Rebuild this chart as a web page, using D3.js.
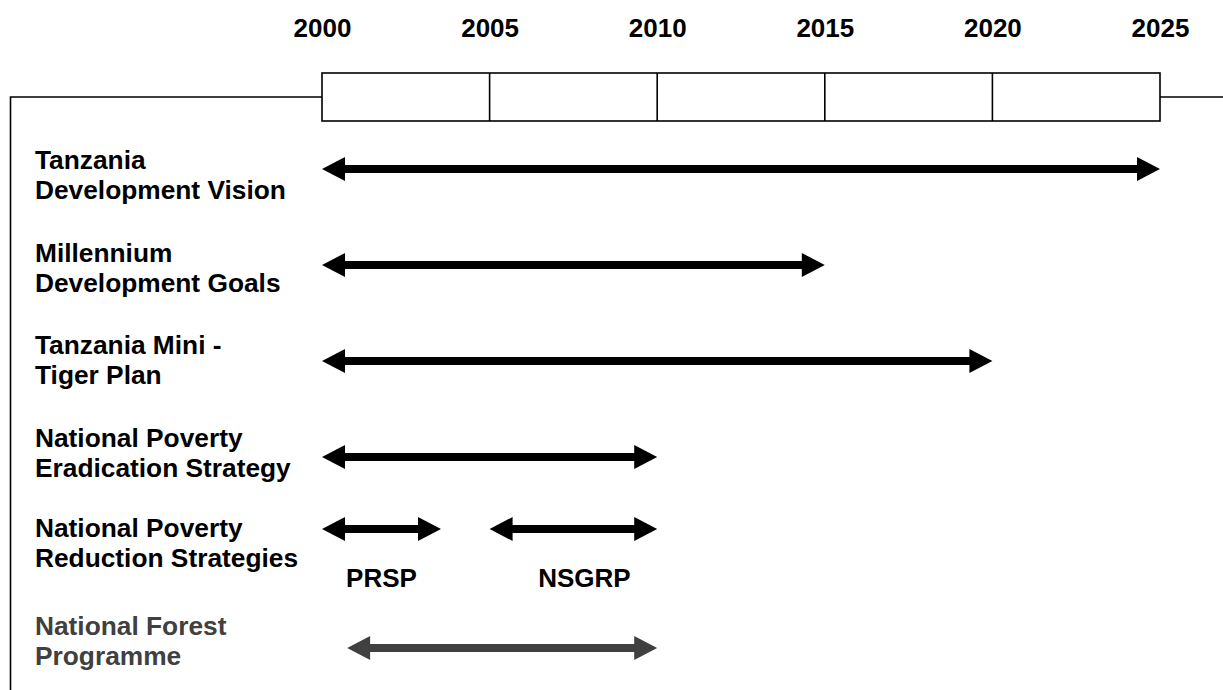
<!DOCTYPE html>
<html><head><meta charset="utf-8">
<script src="https://cdn.jsdelivr.net/npm/d3@7"></script>
<style>html,body{margin:0;padding:0;background:#fff;}svg{display:block;}</style>
</head><body>
<script>
const tickYears = [2000, 2005, 2010, 2015, 2020, 2025];
const rowLabels = [
  ["Tanzania", "Development Vision"],
  ["Millennium", "Development Goals"],
  ["Tanzania Mini -", "Tiger Plan"],
  ["National Poverty", "Eradication Strategy"],
  ["National Poverty", "Reduction Strategies"],
  ["National Forest", "Programme"]
];
const periodRow = [0, 1, 2, 3, 4, 4, 5];
const periodStart = [2000, 2000, 2000, 2000, 2000, 2005, 2000.75];
const periodEnd = [2025, 2015, 2020, 2010, 2003.55, 2010, 2010];
const periodName = ["", "", "", "", "PRSP", "NSGRP", ""];

// layout (not data)
const rowArrowY = [169, 265, 361, 457, 529, 648];
const rowLabelY = [169, 262, 354, 447, 537, 635];
const rowColor = ["#000", "#000", "#000", "#000", "#000", "#404040"];

const W = 1223, H = 690;
const svg = d3.select("body").append("svg").attr("width", W).attr("height", H);
const x = d3.scaleLinear().domain([2000, 2025]).range([322, 1160]);
const font = "Arial, 'Liberation Sans', sans-serif";

// frame
svg.append("path")
  .attr("d", `M10.5,${H} L10.5,97 L${x(2000)},97 M${x(2025)},97 L${W},97`)
  .attr("fill", "none").attr("stroke", "#000").attr("stroke-width", 1.6);

// box
svg.append("rect").attr("x", x(2000)).attr("y", 73).attr("width", x(2025) - x(2000)).attr("height", 48)
  .attr("fill", "#fff").attr("stroke", "#000").attr("stroke-width", 1.6);
svg.selectAll("line.div").data(tickYears.slice(1, -1)).join("line")
  .attr("x1", d => x(d)).attr("x2", d => x(d)).attr("y1", 73).attr("y2", 121)
  .attr("stroke", "#000").attr("stroke-width", 1.6);

// tick labels via axis
const axis = d3.axisTop(x).tickValues(tickYears).tickFormat(d3.format("d")).tickSize(0).tickPadding(0);
const ag = svg.append("g").attr("transform", "translate(0,37)").call(axis);
ag.select(".domain").remove();
ag.selectAll("text").attr("dy", 0).attr("font-family", font).attr("font-weight", "bold").attr("font-size", 26).attr("fill", "#000");

// row labels
rowLabels.forEach((lines, i) => {
  const t = svg.append("text").attr("font-family", font).attr("font-weight", "bold")
    .attr("font-size", 26.3).attr("fill", rowColor[i]);
  lines.forEach((ln, j) => {
    t.append("tspan").attr("x", 35).attr("y", rowLabelY[i] + j * 29.5).text(ln);
  });
});

// arrows
function arrowPath(x0, x1, yc, lw, hl, hw) {
  return `M${x0},${yc} L${x0 + hl},${yc - hw} L${x0 + hl},${yc - lw / 2} L${x1 - hl},${yc - lw / 2} L${x1 - hl},${yc - hw} L${x1},${yc} L${x1 - hl},${yc + hw} L${x1 - hl},${yc + lw / 2} L${x0 + hl},${yc + lw / 2} L${x0 + hl},${yc + hw} Z`;
}
periodRow.forEach((r, k) => {
  svg.append("path")
    .attr("d", arrowPath(x(periodStart[k]), x(periodEnd[k]), rowArrowY[r], 8, 23, 12))
    .attr("fill", rowColor[r]);
  if (periodName[k]) {
    svg.append("text").attr("x", (x(periodStart[k]) + x(periodEnd[k])) / 2 + (k === 4 ? 0 : 11))
      .attr("y", 587).attr("text-anchor", "middle")
      .attr("font-family", font).attr("font-weight", "bold").attr("font-size", 26).text(periodName[k]);
  }
});
</script>
</body></html>
